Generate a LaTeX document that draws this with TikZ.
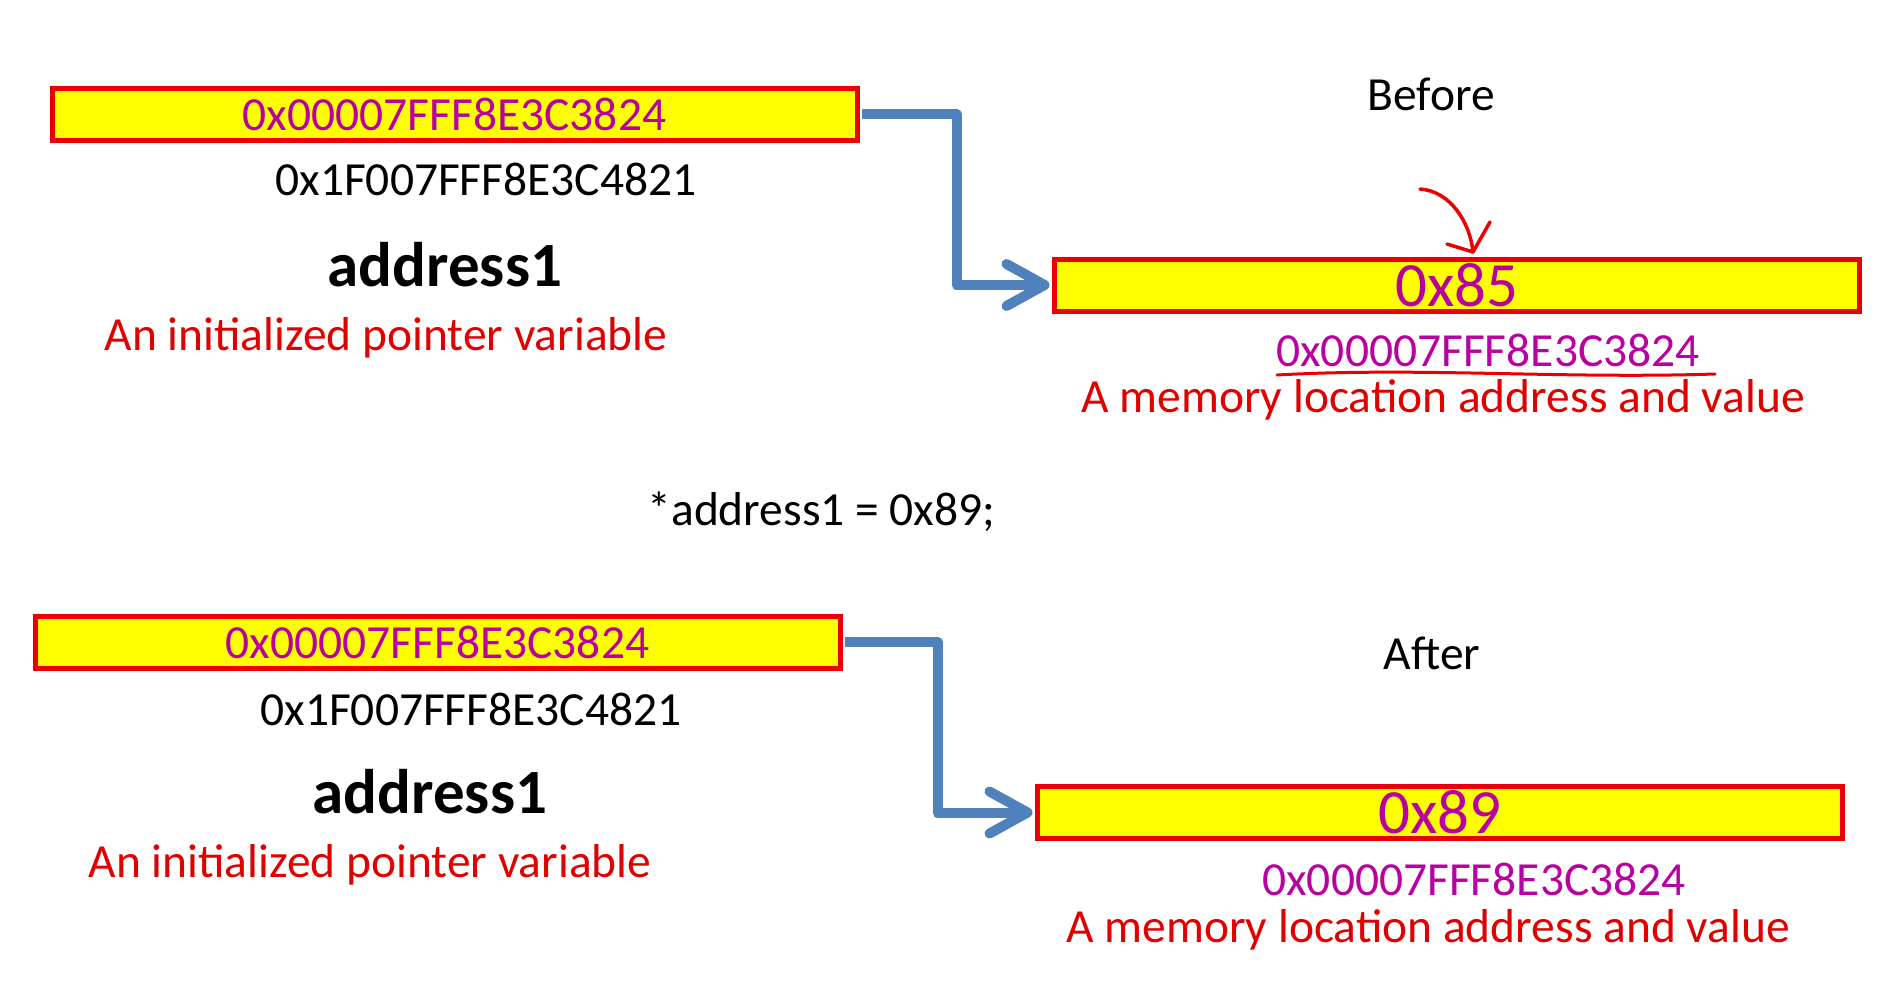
\documentclass[tikz,border=0pt]{standalone}
\usepackage{fontspec}
\setmainfont{Carlito}
\usetikzlibrary{arrows.meta}
\definecolor{boxred}{RGB}{235,0,0}
\definecolor{txtred}{RGB}{225,0,0}
\definecolor{addrmag}{RGB}{185,0,160}
\definecolor{arrowblue}{RGB}{79,129,189}
\definecolor{boxyellow}{RGB}{255,255,0}
\begin{document}
\begin{tikzpicture}[x=1pt,y=-1pt,
  membox/.style={draw=boxred, line width=5pt, fill=boxyellow, inner sep=0pt,
    minimum width=805pt, minimum height=52pt, text=addrmag},
  ptrbox/.style={membox, font=\fontsize{47.5}{57}\selectfont},
  valbox/.style={membox, font=\fontsize{63}{75}\selectfont},
  lbl/.style={font=\fontsize{47.5}{57}\selectfont, inner sep=0pt, anchor=base},
  namelbl/.style={lbl, font=\fontsize{63}{75}\selectfont\bfseries},
  redlbl/.style={lbl, text=txtred},
  maglbl/.style={lbl, text=addrmag},
  ptrarrow/.style={draw=arrowblue, line width=10pt, line join=round,
    shorten <=2.5pt, shorten >=2.5pt,
    -{Straight Barb[length=38pt,width=42pt,round]}},
  handdrawn/.style={draw=boxred, line width=3.5pt, line cap=round, line join=round}
]
\useasboundingbox (0,0) rectangle (1885,991);

% ---------- Before ----------
\node[ptrbox] (A1) at (454.5,114) {0x00007FFF8E3C3824};
\node[lbl] (A1addr) at (486,195) {0x1F007FFF8E3C4821};
\node[namelbl] (A1name) at (445,286) {address1};
\node[redlbl] (A1desc) at (386,350) {An initialized pointer variable};

\node[lbl] (before) at (1431,110) {Before};
\node[valbox] (B1) at (1457,285) {0x85};
\node[maglbl] (B1addr) at (1488,366) {0x00007FFF8E3C3824};
\node[redlbl] (B1desc) at (1443,412) {A memory location address and value};

\draw[ptrarrow] (A1.east) -- ++(97,0) |- (B1.west);

% hand-drawn annotations
\coordinate (redstart) at (1420,189);
\coordinate (redtip) at (1473,252);
\draw[handdrawn] (redstart) .. controls (1450,191) and (1470,222) .. (redtip);
\draw[handdrawn] (1447,244) -- (redtip) -- (1490,222);
\coordinate (ulA) at (1277,375);
\coordinate (ulB) at (1715,374);
\draw[handdrawn, line width=3pt] (ulA) .. controls (1420,367) and (1560,379) .. (ulB);

% ---------- statement ----------
\node[lbl] (stmt) at (821.5,525) {*address1 = 0x89;};

% ---------- After ----------
\node[ptrbox] (A2) at (437.5,642) {0x00007FFF8E3C3824};
\node[lbl] (A2addr) at (471,725) {0x1F007FFF8E3C4821};
\node[namelbl] (A2name) at (430,813) {address1};
\node[redlbl] (A2desc) at (370,877) {An initialized pointer variable};

\node[lbl] (after) at (1432,669) {After};
\node[valbox] (B2) at (1440,812.5) {0x89};
\node[maglbl] (B2addr) at (1474,895) {0x00007FFF8E3C3824};
\node[redlbl] (B2desc) at (1428,942) {A memory location address and value};

\draw[ptrarrow] (A2.east) -- ++(95,0) |- (B2.west);
\end{tikzpicture}
\end{document}
